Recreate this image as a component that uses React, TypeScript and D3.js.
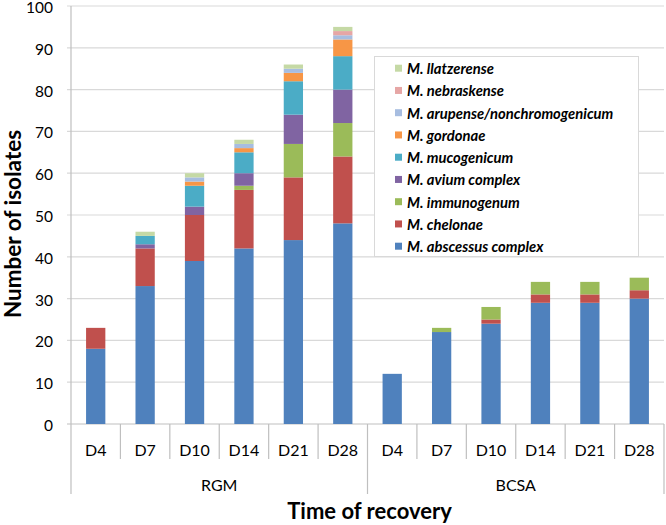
import React from "react";
import * as d3 from "d3";

const categories = ["D4", "D7", "D10", "D14", "D21", "D28", "D4", "D7", "D10", "D14", "D21", "D28"];
const groups = ["RGM", "BCSA"];
const seriesNames = [
  "M. abscessus complex",
  "M. chelonae",
  "M. immunogenum",
  "M. avium complex",
  "M. mucogenicum",
  "M. gordonae",
  "M. arupense/nonchromogenicum",
  "M. nebraskense",
  "M. llatzerense",
];
const abscessus = [18, 33, 39, 42, 44, 48, 12, 22, 24, 29, 29, 30];
const chelonae = [5, 9, 11, 14, 15, 16, 0, 0, 1, 2, 2, 2];
const immunogenum = [0, 0, 0, 1, 8, 8, 0, 1, 3, 3, 3, 3];
const avium = [0, 1, 2, 3, 7, 8, 0, 0, 0, 0, 0, 0];
const mucogenicum = [0, 2, 5, 5, 8, 8, 0, 0, 0, 0, 0, 0];
const gordonae = [0, 0, 1, 1, 2, 4, 0, 0, 0, 0, 0, 0];
const arupense = [0, 0, 1, 1, 1, 1, 0, 0, 0, 0, 0, 0];
const nebraskense = [0, 0, 0, 0, 0, 1, 0, 0, 0, 0, 0, 0];
const llatzerense = [0, 1, 1, 1, 1, 1, 0, 0, 0, 0, 0, 0];
const seriesValues = [abscessus, chelonae, immunogenum, avium, mucogenicum, gordonae, arupense, nebraskense, llatzerense];
const colors = ["#4F81BD", "#C0504D", "#9BBB59", "#8064A2", "#4BACC6", "#F79646", "#A7BDE0", "#E6A6A5", "#C5D9A5"];
const yTicks = [0, 10, 20, 30, 40, 50, 60, 70, 80, 90, 100];

const W = 666;
const H = 525;
const left = 71;
const right = 664;
const top = 6;
const bottom = 424;
const font = "Lato, 'Open Sans', sans-serif";

export default function App() {
  const idx = categories.map((_, i) => i);
  const x = d3.scaleBand<number>().domain(idx).range([left, right]).padding(0);
  const y = d3.scaleLinear().domain([0, 100]).range([bottom, top]);
  const rows = idx.map((i) => {
    const r: Record<string, number> = { i };
    seriesNames.forEach((s, k) => (r[s] = seriesValues[k][i]));
    return r;
  });
  const stacked = d3.stack<Record<string, number>>().keys(seriesNames)(rows);
  const bw = x.bandwidth() * 0.39;
  const groupScale = d3.scaleBand<string>().domain(groups).range([left, right]);
  const gridColor = "#D9D9D9";
  const axisColor = "#BFBFBF";

  return (
    <svg width={W} height={H} style={{ position: "absolute", left: 0, top: 0, background: "#fff" }}>
      {/* gridlines */}
      {yTicks.map((t) => (
        <line key={"g" + t} x1={left - 4} x2={right} y1={y(t)} y2={y(t)} stroke={t === 0 ? axisColor : gridColor} strokeWidth={1.2} />
      ))}
      <line x1={left} x2={left} y1={top} y2={bottom} stroke={axisColor} strokeWidth={1.2} />
      {yTicks.map((t) => (
        <text key={"t" + t} x={53} y={y(t) + 1.5} dy="0.36em" textAnchor="end" fontFamily={font} fontSize={15.5} fill="#000">
          {t}
        </text>
      ))}
      {/* bars */}
      {stacked.map((layer, k) => (
        <g key={layer.key} fill={colors[k]}>
          {layer.map((d, i) =>
            d[1] - d[0] > 0 ? (
              <rect
                key={i}
                x={(x(i) as number) + (x.bandwidth() - bw) / 2}
                y={y(d[1])}
                width={bw}
                height={y(d[0]) - y(d[1])}
              />
            ) : null
          )}
        </g>
      ))}
      {/* category separators */}
      {idx.concat([idx.length]).map((i) => {
        const xx = i < idx.length ? (x(i) as number) : right;
        const long = i % 6 === 0 || i === idx.length;
        return <line key={"s" + i} x1={xx} x2={xx} y1={bottom} y2={long ? 494 : 459} stroke={axisColor} strokeWidth={1.2} />;
      })}
      {categories.map((c, i) => (
        <text key={"c" + i} x={(x(i) as number) + x.bandwidth() / 2} y={455.5} textAnchor="middle" fontFamily={font} fontSize={16} fill="#000">
          {c}
        </text>
      ))}
      {groups.map((g) => (
        <text key={g} x={(groupScale(g) as number) + groupScale.bandwidth() / 2} y={490.5} textAnchor="middle" fontFamily={font} fontSize={16} fill="#000">
          {g}
        </text>
      ))}
      <text x={(left + right) / 2 + 2} y={519} textAnchor="middle" fontFamily={font} fontSize={22} fontWeight="bold" fill="#000">
        Time of recovery
      </text>
      <text transform={`translate(21,224) rotate(-90)`} textAnchor="middle" fontFamily={font} fontSize={22.5} fontWeight="bold" fill="#000">
        Number of isolates
      </text>
      {/* legend */}
      <rect x={374.5} y={56.5} width={264} height={200} fill="#fff" stroke={gridColor} strokeWidth={1} />
      {seriesNames
        .map((s, k) => ({ s, k }))
        .reverse()
        .map(({ s, k }, r) => {
          const cy = 68.7 + r * 22.25;
          return (
            <g key={"l" + k}>
              <rect x={395} y={cy - 4} width={7} height={7} fill={colors[k]} />
              <text x={407} y={cy} dy="0.36em" fontFamily={font} fontSize={14.8} fontWeight="bold" fontStyle="italic" fill="#000">
                {s}
              </text>
            </g>
          );
        })}
    </svg>
  );
}
